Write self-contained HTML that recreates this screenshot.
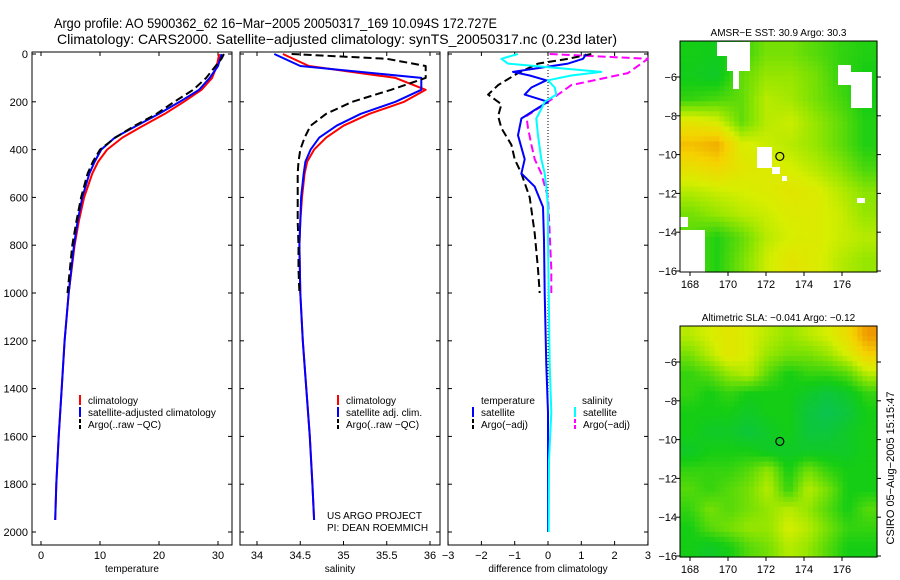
<!DOCTYPE html>
<html><head><meta charset="utf-8">
<style>
html,body{margin:0;padding:0;background:#fff;}
svg{display:block;font-family:"Liberation Sans",Arial,sans-serif;}
</style></head>
<body>
<svg id="fig" width="900" height="580" viewBox="0 0 900 580">
<text x="54" y="28" font-size="14" textLength="443" lengthAdjust="spacingAndGlyphs">Argo profile: AO 5900362_62 16−Mar−2005 20050317_169 10.094S 172.727E</text>
<text x="57" y="44" font-size="14" textLength="560" lengthAdjust="spacingAndGlyphs">Climatology: CARS2000. Satellite−adjusted climatology: synTS_20050317.nc (0.23d later)</text>
<g id="g"></g>
</svg>
<script>
// ---- profile data (depth in m) ----
const tDepth=[0,50,100,150,200,250,300,350,400,450,500,600,700,800,1000,1200,1400,1600,1800,1950];
const tClim=[30.2,29.8,29.0,27.2,24.2,21.0,17.3,13.8,11.2,9.7,8.7,7.3,6.4,5.7,4.7,4.0,3.5,3.0,2.6,2.4];
const tSat=[30.6,30.0,28.6,26.8,23.5,20.0,16.2,12.5,10.2,9.1,8.2,7.0,6.2,5.6,4.7,4.0,3.5,3.0,2.6,2.4];
const tArgoDepth=[0,20,50,100,150,200,250,300,350,400,450,500,600,700,800,900,1000];
const tArgo=[31.0,30.6,29.6,28.0,25.8,22.6,19.6,15.9,12.6,10.0,8.8,7.9,6.8,6.0,5.3,4.9,4.5];
const sClim=[34.30,34.60,35.60,35.95,35.70,35.30,35.00,34.80,34.66,34.58,34.55,34.52,34.50,34.49,34.50,34.53,34.57,34.61,34.64,34.66];
const sSat=[34.20,34.50,35.90,35.90,35.60,35.20,34.92,34.72,34.62,34.56,34.54,34.51,34.50,34.49,34.50,34.53,34.57,34.61,34.64,34.66];
const sArgo=[34.40,35.50,35.95,35.95,35.55,35.10,34.80,34.62,34.55,34.50,34.48,34.47,34.47,34.47,34.48,34.48,34.49];
// differences
const dDepth=[0,20,40,75,90,110,140,170,200,230,270,340,440,500,555,640,780,1000,1300,1500,1700,2000];
const dTempSat=[1.15,1.05,0.6,-1.05,-0.55,-0.05,-0.5,-0.7,0,-0.35,-0.8,-0.9,-0.7,-0.8,-0.4,-0.15,-0.12,-0.1,-0.05,0,0,0];
const dSalSat=[-0.9,-1.4,-1.2,1.6,0.7,0,0.2,0.25,-0.1,-0.2,-0.35,-0.3,-0.2,-0.1,-0.05,0,0,0.02,0.05,0.1,0.03,0.02];
const dArgoDepth=[0,20,40,80,130,170,210,260,310,380,440,500,600,750,900,1000];
const dTempArgo=[1.3,0.6,-0.3,-0.9,-1.5,-1.8,-1.4,-1.5,-1.4,-1.1,-1.0,-0.8,-0.55,-0.4,-0.3,-0.25];
const dSalArgo=[0.05,3.0,2.8,2.4,0.7,0.3,-0.1,-0.65,-0.6,-0.5,-0.4,-0.2,0,0.05,0.1,0.1];
const yTicks=[0,200,400,600,800,1000,1200,1400,1600,1800,2000];
const tTicks=[0,10,20,30], sTicks=[34,34.5,35,35.5,36], dTicks=[-3,-2,-1,0,1,2,3];
// ---- maps ----
const sstGrid=[
[.3,.28,.35,.45,.45,.4,.35,.32],
[.28,.25,.42,.5,.5,.45,.35,.3],
[.35,.38,.42,.55,.52,.45,.38,.3],
[.65,.6,.42,.55,.58,.5,.42,.32],
[.8,.85,.62,.58,.55,.5,.42,.32],
[.68,.72,.65,.62,.6,.55,.48,.38],
[.55,.58,.6,.62,.65,.62,.55,.48],
[.45,.5,.55,.58,.62,.62,.58,.5],
[.4,.32,.42,.55,.6,.62,.58,.55],
[.4,.32,.45,.58,.66,.62,.55,.5]];
const slaGrid=[
[.55,.6,.65,.6,.55,.5,.55,.6,.7,.9],
[.45,.55,.65,.6,.5,.45,.45,.5,.6,.75],
[.35,.4,.5,.55,.4,.3,.35,.35,.4,.55],
[.35,.3,.35,.3,.3,.3,.25,.2,.25,.35],
[.3,.3,.3,.25,.3,.3,.2,.15,.2,.3],
[.3,.25,.25,.2,.25,.3,.2,.2,.25,.3],
[.25,.3,.3,.3,.25,.25,.25,.25,.25,.3],
[.35,.35,.35,.4,.5,.3,.45,.35,.3,.3],
[.4,.35,.4,.45,.55,.35,.55,.45,.3,.3],
[.35,.45,.4,.45,.5,.55,.5,.4,.3,.4],
[.3,.4,.45,.5,.5,.6,.55,.45,.35,.35],
[.3,.25,.3,.4,.45,.55,.5,.4,.3,.3]];
const lonTicks=[168,170,172,174,176], latTicks=[-6,-8,-10,-12,-14,-16];
const argoLon=172.727, argoLat=-10.094;

const NS="http://www.w3.org/2000/svg", G=document.getElementById('g');
function mk(t,a,p){const e=document.createElementNS(NS,t);for(const k in a)e.setAttribute(k,a[k]);(p||G).appendChild(e);return e;}
const Y=d=>54+d*0.239;
const PT=52,PB=545;
function txt(x,y,s,sz,anchor,name){const e=mk('text',{x:x,y:y,'font-size':sz,'text-anchor':anchor||'start'});e.textContent=s;

return e;}
function panel(x0,x1,X,ticks,label,name,tickFmt){
 const r=mk('rect',{x:x0,y:PT,width:x1-x0,height:PB-PT,fill:'none',stroke:'#000','stroke-width':1});
 
 
 ticks.forEach(t=>{const x=X(t);mk('line',{x1:x,x2:x,y1:PB,y2:PB-4,stroke:'#000'});mk('line',{x1:x,x2:x,y1:PT,y2:PT+4,stroke:'#000'});
  txt(x,559,tickFmt?tickFmt(t):String(t),11,'middle',name+'-x-tick');});
 yTicks.forEach(d=>{mk('line',{x1:x0,x2:x0+4,y1:Y(d),y2:Y(d),stroke:'#000'});mk('line',{x1:x1,x2:x1-4,y1:Y(d),y2:Y(d),stroke:'#000'});});
 txt((x0+x1)/2,572,label,10,'middle',name+'-x-title');
}
function line(X,vals,depths,color,dash,name){
 const pts=vals.map((v,i)=>X(v).toFixed(1)+','+Y(depths[i]).toFixed(1)).join(' ');
 const a={points:pts,fill:'none',stroke:color,'stroke-width':2,'stroke-linejoin':'round'};
 if(dash)a['stroke-dasharray']=dash;
 const e=mk('polyline',a);
 
 
}
yTicks.forEach(d=>txt(28,Y(d)+4,String(d),11,'end','y-axis-tick'));
// panel 1
const X1=v=>41+v*5.9;
panel(32,232,X1,tTicks,'temperature','temperature-panel');
line(X1,tClim,tDepth,'#f00',null,'temp-climatology-line');
line(X1,tSat,tDepth,'#00f',null,'temp-satellite-line');
line(X1,tArgo,tArgoDepth,'#000','8,4','temp-argo-line');
// panel 2
const X2=v=>257+(v-34)*86.5;
panel(240,440,X2,sTicks,'salinity','salinity-panel');
line(X2,sClim,tDepth,'#f00',null,'sal-climatology-line');
line(X2,sSat,tDepth,'#00f',null,'sal-satellite-line');
line(X2,sArgo,tArgoDepth,'#000','8,4','sal-argo-line');
// panel 3
const X3=v=>548+v*33.3;
panel(448,648,X3,dTicks,'difference from climatology','difference-panel',t=>t<0?'−'+Math.abs(t):String(t));
mk('line',{x1:548,x2:548,y1:PT,y2:400,stroke:'#000','stroke-dasharray':'1,2'});
line(X3,dSalArgo,dArgoDepth,'#f0f','8,4','sal-argo-diff-line');
line(X3,dTempArgo,dArgoDepth,'#000','8,4','temp-argo-diff-line');
line(X3,dTempSat,dDepth,'#00f',null,'temp-satellite-diff-line');
line(X3,dSalSat,dDepth,'#0ff',null,'sal-satellite-diff-line');
// legends
function leg(x,y,color,dash,label,name){mk('line',{x1:x,x2:x,y1:y-9,y2:y+1,stroke:color,'stroke-width':2,'stroke-dasharray':dash||'none'});if(label)txt(x+8,y,label,10,'start',name);}
leg(80,404,'#f00',0,'climatology','legend-climatology');
leg(80,416,'#00f',0,'satellite-adjusted climatology','legend-satellite');
leg(80,428,'#000','4,2','Argo(..raw −QC)','legend-argo');
leg(338,404,'#f00',0,'climatology','legend2-climatology');
leg(338,416,'#00f',0,'satellite adj. clim.','legend2-satellite');
leg(338,428,'#000','4,2','Argo(..raw −QC)','legend2-argo');
txt(481,404,'temperature',10,'start','legend3-temperature-head');
leg(473,416,'#00f',0,'satellite','legend3-temp-satellite');
leg(473,428,'#000','4,2','Argo(−adj)','legend3-temp-argo');
txt(582,404,'salinity',10,'start','legend3-salinity-head');
leg(575,416,'#0ff',0,'satellite','legend3-sal-satellite');
leg(575,428,'#f0f','4,2','Argo(−adj)','legend3-sal-argo');
txt(327,519,'US ARGO PROJECT',10,'start','project-credit');
txt(327,531,'PI: DEAN ROEMMICH',10,'start','pi-credit');
// colormap
const stops=[[0,[0,185,140]],[0.3,[20,205,20]],[0.5,[150,230,0]],[0.6,[215,238,0]],[0.75,[245,210,0]],[1,[235,115,0]]];
function cmap(v){for(let i=1;i<stops.length;i++){if(v<=stops[i][0]){const [a,ca]=stops[i-1],[b,cb]=stops[i];const f=(v-a)/(b-a);return 'rgb('+ca.map((c,k)=>Math.round(c+(cb[k]-c)*f)).join(',')+')';}}return 'rgb(235,115,0)';}
function bil(g,u,v){const R=g.length,C=g[0].length;const x=Math.max(0,Math.min(C-1,u*C-0.5)),y=Math.max(0,Math.min(R-1,v*R-0.5));
 const x0=Math.floor(x),y0=Math.floor(y),x1=Math.min(C-1,x0+1),y1=Math.min(R-1,y0+1),fx=x-x0,fy=y-y0;
 return g[y0][x0]*(1-fx)*(1-fy)+g[y0][x1]*fx*(1-fy)+g[y1][x0]*(1-fx)*fy+g[y1][x1]*fx*fy;}
function map(top,grid,name,cells){
 const L=680,R=877,B=top+231,lonX=l=>690+(l-168)*19,latY=t=>top+36+(-6-t)*19.4;
 const grp=mk('g',{});
 const nx=cells[0],ny=cells[1],cw=(R-L)/nx,ch=(B-top)/ny;
 for(let j=0;j<ny;j++)for(let i=0;i<nx;i++){
  mk('rect',{x:(L+i*cw).toFixed(2),y:(top+j*ch).toFixed(2),width:(cw+0.6).toFixed(2),height:(ch+0.6).toFixed(2),fill:cmap(bil(grid,(i+.5)/nx,(j+.5)/ny))},grp);}
 return {L,R,B,lonX,latY,grp};
}
function mapFrame(m,top,name,title){
 mk('rect',{x:m.L,y:top,width:m.R-m.L,height:m.B-top,fill:'none',stroke:'#000'});
 lonTicks.forEach(l=>{const x=m.lonX(l);mk('line',{x1:x,x2:x,y1:m.B,y2:m.B+4,stroke:'#000'});txt(x,m.B+16,String(l),11,'middle',name+'-lon-tick');});
 latTicks.forEach(t=>{const y=m.latY(t);mk('line',{x1:m.R,x2:m.R+4,y1:y,y2:y,stroke:'#000'});mk('line',{x1:m.L,x2:m.L-4,y1:y,y2:y,stroke:'#000'});txt(m.L-3,y+4,'−'+Math.abs(t),11,'end',name+'-lat-tick');});
 txt((m.L+m.R)/2,top-5,title,10,'middle',name+'-title');
 const c=mk('circle',{cx:m.lonX(argoLon),cy:m.latY(argoLat),r:4,fill:'none',stroke:'#000','stroke-width':1.2});
 
 
}
const m1=map(41,sstGrid,'sst-map',[40,46]);
[[717,42,17,14],[727,42,23,29],[733,56,6,33],[757,147,15,21],[772,167,8,7],[782,176,5,5],[838,65,13,20],[851,72,21,36],[680,217,8,10],[680,230,25,43],[857,198,8,5]].forEach(r=>mk('rect',{x:r[0],y:r[1],width:r[2],height:r[3],fill:'#fff'},m1.grp));
mapFrame(m1,41,'sst-map','AMSR−E SST: 30.9 Argo: 30.3');
const m2=map(326,slaGrid,'sla-map',[40,46]);
mapFrame(m2,326,'sla-map','Altimetric SLA: −0.041 Argo: −0.12');
const ct=mk('text',{x:0,y:0,'font-size':11,'text-anchor':'middle',transform:'translate(894,468) rotate(-90)'});
ct.textContent='CSIRO 05−Aug−2005 15:15:47';


</script>
</body></html>
